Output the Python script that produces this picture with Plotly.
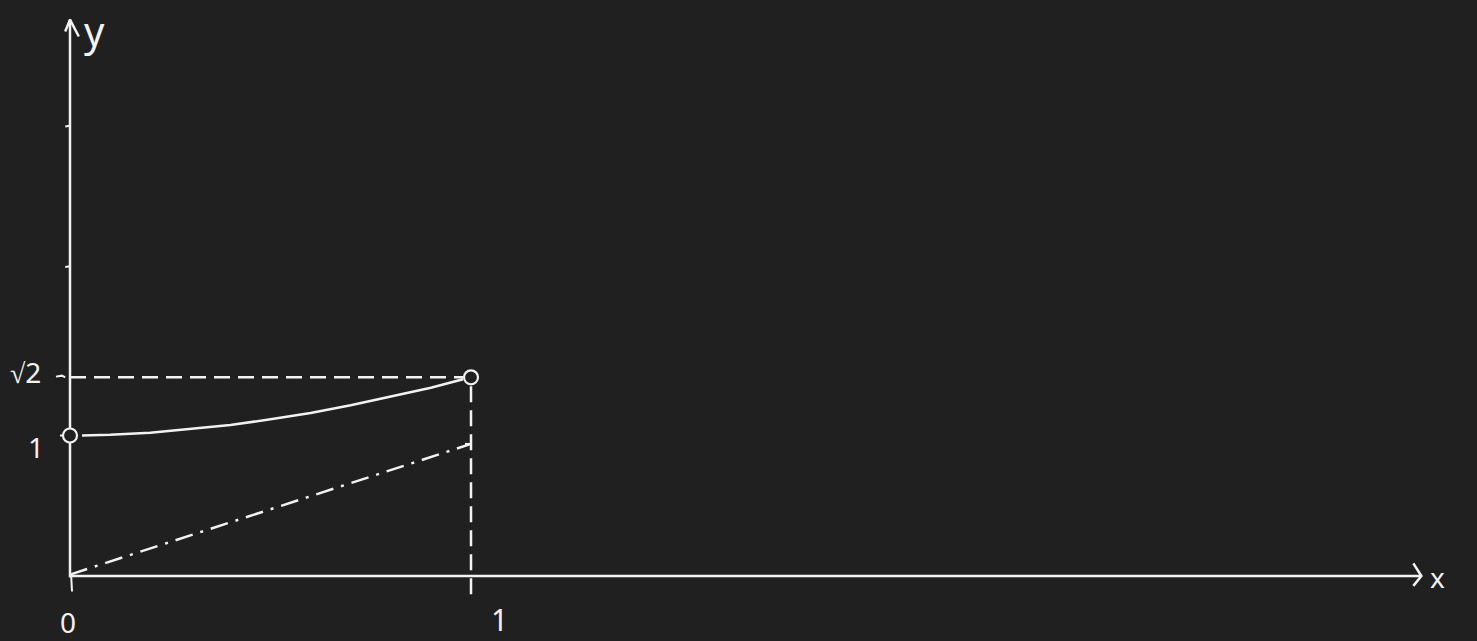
import plotly.graph_objects as go

# ---- data ----
curve_x = [0.03, 0.1, 0.2, 0.3, 0.4, 0.5, 0.6, 0.7, 0.8, 0.9, 0.98]
curve_y = [1.00, 1.005, 1.02, 1.045, 1.075, 1.115, 1.16, 1.215, 1.275, 1.34, 1.40]
open_pts_x = [0.0, 1.0]
open_pts_y = [1.0, 1.414]
diag_x = [0.0, 1.0]
diag_y = [0.01, 0.94]
sqrt2 = 1.414
x_axis_end = 3.37
y_axis_end = 3.96
y_ticks = [2.2, 3.2]
x_tick_labels = ["0", "1"]
y_tick_labels = ["1", "√2"]

BG = "#202020"
FG = "#f2f2f2"

fig = go.Figure()

def line(xs, ys, dash="solid", w=2.5):
    fig.add_trace(go.Scatter(x=xs, y=ys, mode="lines",
                             line=dict(color=FG, width=w, dash=dash),
                             hoverinfo="skip", showlegend=False))

# axes
line([0, x_axis_end], [0, 0])
line([0, 0], [-0.01, y_axis_end])
# arrow heads
line([x_axis_end - 0.02, x_axis_end, x_axis_end - 0.02], [0.09, 0, -0.07])
line([-0.012, 0, 0.022], [y_axis_end - 0.085, y_axis_end, y_axis_end - 0.12])
# y axis small ticks
for t in y_ticks:
    line([-0.012, 0.0], [t, t + 0.005], w=2)
# x tick at 0
line([0.003, 0.005], [0, -0.11], w=2)
# y tick marks at 1 and sqrt2
line([-0.025, -0.015], [1.0, 1.0], w=2)
line([-0.035, -0.02, -0.012], [sqrt2 + 0.005, sqrt2 + 0.012, sqrt2 + 0.0], w=2)

# dashed guides
line([0.0, 0.98], [sqrt2, sqrt2], dash="16px,8px")
line([1.0, 1.0], [-0.13, sqrt2 - 0.04], dash="16px,8px")

# dash-dot line
line(diag_x, diag_y, dash="18px,8px,3px,8px")
line([0.985, 1.0], [0.94, 0.94], w=2)

# curve
line(curve_x, curve_y)

# open endpoints
fig.add_trace(go.Scatter(x=open_pts_x, y=open_pts_y, mode="markers",
                         marker=dict(size=14, color=BG, line=dict(color=FG, width=2.2)),
                         hoverinfo="skip", showlegend=False))

font = dict(family="Noto Sans", color=FG)
ann = [
    dict(x=-0.005, y=-0.33, text=x_tick_labels[0], size=28),
    dict(x=1.07, y=-0.31, text=x_tick_labels[1], size=30),
    dict(x=-0.085, y=0.92, text=y_tick_labels[0], size=28),
    dict(x=-0.11, y=1.45, text=y_tick_labels[1], size=28),
    dict(x=3.41, y=-0.01, text="x", size=28),
    dict(x=0.06, y=3.88, text="y", size=40),
]
for a in ann:
    fig.add_annotation(x=a["x"], y=a["y"], text=a["text"], showarrow=False,
                       font=dict(size=a["size"], **font), xanchor="center", yanchor="middle")

px_x = 401.0
px_y = 140.5
fig.update_layout(
    width=1477, height=641,
    margin=dict(l=0, r=0, t=0, b=0),
    paper_bgcolor=BG, plot_bgcolor=BG,
    xaxis=dict(range=[-70 / px_x, (1477 - 70) / px_x], visible=False, fixedrange=True),
    yaxis=dict(range=[-(641 - 576) / px_y, 576 / px_y], visible=False, fixedrange=True),
)

fig.write_html("out.html")
